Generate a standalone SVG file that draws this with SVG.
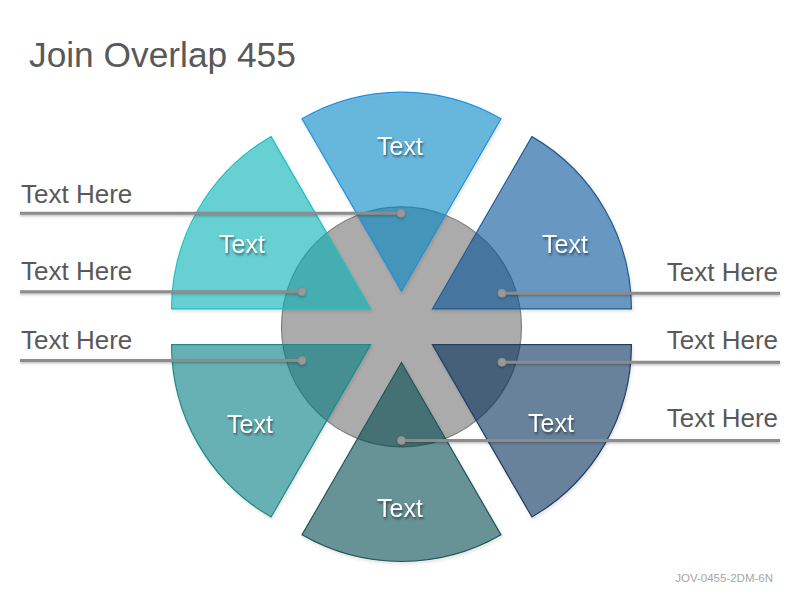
<svg xmlns="http://www.w3.org/2000/svg" width="800" height="600" viewBox="0 0 800 600">
  <defs>
    <filter id="tshadow" x="-20%" y="-30%" width="140%" height="170%" color-interpolation-filters="sRGB">
      <feDropShadow dx="1" dy="2" stdDeviation="1.2" flood-color="#000000" flood-opacity="0.45"/>
    </filter>
    <filter id="wshadow" x="-10%" y="-10%" width="120%" height="120%" color-interpolation-filters="sRGB">
      <feDropShadow dx="1" dy="2" stdDeviation="1.5" flood-color="#000000" flood-opacity="0.15"/>
    </filter>
    <filter id="lshadow" x="-5%" y="-100%" width="110%" height="300%" color-interpolation-filters="sRGB">
      <feDropShadow dx="0" dy="1.5" stdDeviation="0.8" flood-color="#000000" flood-opacity="0.25"/>
    </filter>
  </defs>
  <style>
    .title { font-family: "Liberation Sans", Arial, sans-serif; font-size: 35.3px; fill: #595959; }
    .lbl { font-family: "Liberation Sans", Arial, sans-serif; font-size: 26px; fill: #595959; }
    .wt { font-family: "Liberation Sans", Arial, sans-serif; font-size: 25px; fill: #ffffff; text-anchor: middle; filter: url(#tshadow); }
    .foot { font-family: "Liberation Sans", Arial, sans-serif; font-size: 11.5px; fill: #a6a6a6; text-anchor: end; }
    .wedge { fill-opacity: 0.56; stroke-width: 1.2; }
    .line { stroke: #8c8c8c; stroke-width: 3; fill: none; }
    .dot { fill: #999999; stroke: #8c8c8c; stroke-width: 1; }
  </style>
  <rect width="800" height="600" fill="#ffffff"/>
  <text class="title" x="29" y="67">Join Overlap 455</text>

  <g id="hub">
    <circle cx="401.5" cy="326.8" r="120" fill="#ababab" stroke="#7f7f7f" stroke-width="1.2"/>
  </g>

  <g id="wedge-top" filter="url(#wshadow)">
    <path class="wedge" d="M401.5 291.1 L302 118.76 A199 199 0 0 1 501 118.76 Z" fill="#008fd3" stroke="#1e8fe0"/>
    <text class="wt" x="400" y="154.5">Text</text>
  </g>
  <g id="wedge-upper-right" filter="url(#wshadow)">
    <path class="wedge" d="M432.42 308.95 L531.92 136.61 A199 199 0 0 1 631.42 308.95 Z" fill="#0257a0" stroke="#1f5a90"/>
    <text class="wt" x="565" y="253.3">Text</text>
  </g>
  <g id="wedge-lower-right" filter="url(#wshadow)">
    <path class="wedge" d="M432.42 344.65 L631.42 344.65 A199 199 0 0 1 531.92 516.99 Z" fill="#04305e" stroke="#1f3f66"/>
    <text class="wt" x="551" y="432">Text</text>
  </g>
  <g id="wedge-bottom" filter="url(#wshadow)">
    <path class="wedge" d="M401.5 362.5 L501 534.84 A199 199 0 0 1 302 534.84 Z" fill="#004e53" stroke="#1f5555"/>
    <text class="wt" x="400" y="516.7">Text</text>
  </g>
  <g id="wedge-lower-left" filter="url(#wshadow)">
    <path class="wedge" d="M370.58 344.65 L271.08 516.99 A199 199 0 0 1 171.58 344.65 Z" fill="#008489" stroke="#1f8a8a"/>
    <text class="wt" x="250" y="433">Text</text>
  </g>
  <g id="wedge-upper-left" filter="url(#wshadow)">
    <path class="wedge" d="M370.58 308.95 L171.58 308.95 A199 199 0 0 1 271.08 136.61 Z" fill="#00bcc0" stroke="#20c0c0"/>
    <text class="wt" x="242" y="252.7">Text</text>
  </g>

  <g id="connectors" filter="url(#lshadow)">
    <line class="line" x1="20" y1="213.3" x2="401" y2="213.3"/>
    <circle class="dot" cx="401" cy="213.3" r="4"/>
    <line class="line" x1="20" y1="291.7" x2="302" y2="291.7"/>
    <circle class="dot" cx="302" cy="291.7" r="4"/>
    <line class="line" x1="20" y1="360.5" x2="302" y2="360.5"/>
    <circle class="dot" cx="302" cy="360.5" r="4"/>
    <line class="line" x1="502" y1="293.3" x2="780" y2="293.3"/>
    <circle class="dot" cx="502" cy="293.3" r="4"/>
    <line class="line" x1="502" y1="362.3" x2="780" y2="362.3"/>
    <circle class="dot" cx="502" cy="362.3" r="4"/>
    <line class="line" x1="401.5" y1="440.5" x2="780" y2="440.5"/>
    <circle class="dot" cx="401.5" cy="440.5" r="4"/>
  </g>

  <g id="labels">
    <text class="lbl" x="21" y="202.5">Text Here</text>
    <text class="lbl" x="21" y="280">Text Here</text>
    <text class="lbl" x="21" y="349">Text Here</text>
    <text class="lbl" x="778" y="280.7" text-anchor="end">Text Here</text>
    <text class="lbl" x="778" y="349.3" text-anchor="end">Text Here</text>
    <text class="lbl" x="778" y="426.7" text-anchor="end">Text Here</text>
  </g>

  <text class="foot" x="773" y="582">JOV-0455-2DM-6N</text>
</svg>
